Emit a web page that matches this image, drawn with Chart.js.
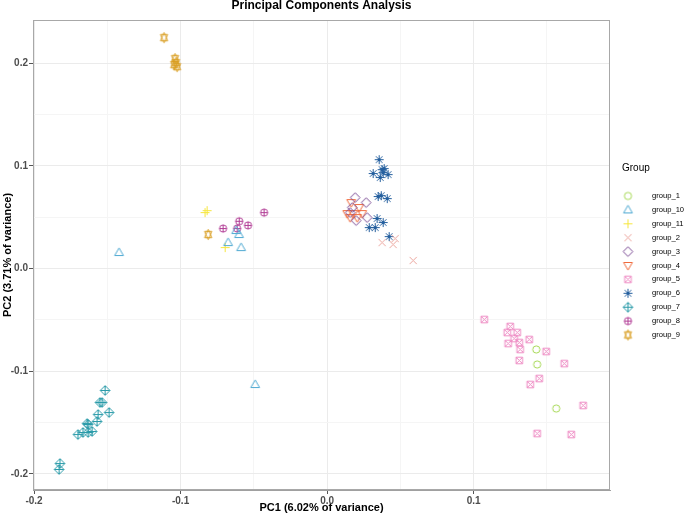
<!DOCTYPE html>
<html lang="en">
<head>
<meta charset="utf-8"/>
<title>Principal Components Analysis</title>
<style>
  body { margin: 0; padding: 0; background: #fff; }
  canvas { display: block; }
</style>
</head>
<body>
<canvas id="chart" width="685" height="515"></canvas>
<script src="https://cdn.jsdelivr.net/npm/chart.js"></script>
<script>
// groups as listed in the legend
const groups = ["group_1", "group_10", "group_11", "group_2", "group_3", "group_4",
                "group_5", "group_6", "group_7", "group_8", "group_9"];
const colors = ["#A6D854", "#4EA9D2", "#F6E63C", "#EBA49C", "#7A4A94", "#F06A3C",
                "#EE8CC4", "#245F9E", "#2A9BA9", "#B23E96", "#D99E22"];
const shapes = ["circle", "triUp", "plus", "cross", "diamond", "triDown",
                "squareX", "asterisk", "diamondPlus", "circlePlus", "starDavid"];

// PC1 / PC2 scores
const pc1_g1  = [0.1427, 0.1433, 0.1563];
const pc2_g1  = [-0.0788, -0.0934, -0.1363];
const pc1_g10 = [-0.142, -0.0621, -0.0601, -0.0676, -0.0587, -0.0491];
const pc2_g10 = [0.0156, 0.037, 0.0331, 0.0253, 0.0204, -0.1129];
const pc1_g11 = [-0.0833, -0.0819, -0.0696];
const pc2_g11 = [0.0545, 0.0564, 0.0204];
const pc1_g2  = [0.0375, 0.0464, 0.045, 0.0587];
const pc2_g2  = [0.0253, 0.0292, 0.0234, 0.0078];
const pc1_g3  = [0.0191, 0.0266, 0.0171, 0.0273, 0.0198, 0.0157];
const pc2_g3  = [0.0691, 0.0642, 0.0594, 0.0496, 0.0467, 0.0545];
const pc1_g4  = [0.0164, 0.0218, 0.0137, 0.0177, 0.0205, 0.0239, 0.0157];
const pc2_g4  = [0.0642, 0.0594, 0.0535, 0.0535, 0.0496, 0.0535, 0.0496];
const pc1_g5  = [0.1072, 0.1249, 0.1229, 0.1297, 0.1276, 0.1379, 0.1235, 0.1311, 0.1317,
                 0.1495, 0.1311, 0.1618, 0.1447, 0.1386, 0.1747, 0.1433, 0.1666];
const pc2_g5  = [-0.0496, -0.0564, -0.0623, -0.0623, -0.0681, -0.0691, -0.073, -0.072, -0.0788,
                 -0.0808, -0.0895, -0.0925, -0.1071, -0.1129, -0.1333, -0.1606, -0.1616];
const pc1_g6  = [0.0355, 0.0375, 0.0389, 0.0314, 0.0362, 0.0416, 0.0382, 0.0348,
                 0.0369, 0.041, 0.0341, 0.0382, 0.0287, 0.0328, 0.0423];
const pc2_g6  = [0.106, 0.0963, 0.0973, 0.0925, 0.0886, 0.0915, 0.0934, 0.0701,
                 0.071, 0.0681, 0.0487, 0.0448, 0.0399, 0.0399, 0.0311];
const pc1_g7  = [-0.1515, -0.155, -0.1536, -0.1488, -0.1563, -0.157, -0.1638,
                 -0.1631, -0.1666, -0.1604, -0.1631, -0.17, -0.1823, -0.1829];
const pc2_g7  = [-0.1187, -0.1304, -0.1304, -0.1402, -0.1421, -0.1489, -0.1509,
                 -0.1518, -0.1596, -0.1586, -0.1596, -0.1616, -0.1898, -0.1956];
const pc1_g8  = [-0.043, -0.06, -0.054, -0.071, -0.0614];
const pc2_g8  = [0.0545, 0.046, 0.042, 0.039, 0.039];
const pc1_g9  = [-0.1113, -0.1038, -0.1031, -0.1024, -0.1044, -0.0812];
const pc2_g9  = [0.2248, 0.2044, 0.2005, 0.1966, 0.1985, 0.0331];

const pc1 = [pc1_g1, pc1_g10, pc1_g11, pc1_g2, pc1_g3, pc1_g4, pc1_g5, pc1_g6, pc1_g7, pc1_g8, pc1_g9];
const pc2 = [pc2_g1, pc2_g10, pc2_g11, pc2_g2, pc2_g3, pc2_g4, pc2_g5, pc2_g6, pc2_g7, pc2_g8, pc2_g9];

const xTicks = [-0.2, -0.15, -0.1, -0.05, 0, 0.05, 0.1, 0.15];
const yTicks = [-0.2, -0.15, -0.1, -0.05, 0, 0.05, 0.1, 0.15, 0.2];

const FONT = '"Liberation Sans", Arial, sans-serif';

// ggplot-like open shapes drawn on little canvases
function marker(shape, color) {
  const s = 13, m = s / 2;
  const c = document.createElement("canvas");
  c.width = s; c.height = s;
  const g = c.getContext("2d");
  g.strokeStyle = color;
  g.lineWidth = 1;
  g.beginPath();
  const r = 3.6;
  if (shape === "circle") {
    g.arc(m, m, r, 0, Math.PI * 2);
  } else if (shape === "triUp") {
    g.moveTo(m, m - 4.6); g.lineTo(m + 4.4, m + 3); g.lineTo(m - 4.4, m + 3); g.closePath();
  } else if (shape === "triDown") {
    g.moveTo(m, m + 4.6); g.lineTo(m + 4.4, m - 3); g.lineTo(m - 4.4, m - 3); g.closePath();
  } else if (shape === "plus") {
    g.moveTo(m - 4.5, m); g.lineTo(m + 4.5, m); g.moveTo(m, m - 4.5); g.lineTo(m, m + 4.5);
  } else if (shape === "cross") {
    g.moveTo(m - r, m - r); g.lineTo(m + r, m + r); g.moveTo(m + r, m - r); g.lineTo(m - r, m + r);
  } else if (shape === "diamond") {
    g.moveTo(m, m - 4.8); g.lineTo(m + 4.8, m); g.lineTo(m, m + 4.8); g.lineTo(m - 4.8, m); g.closePath();
  } else if (shape === "squareX") {
    g.rect(m - 3.3, m - 3.3, 6.6, 6.6);
    g.moveTo(m - 3.3, m - 3.3); g.lineTo(m + 3.3, m + 3.3); g.moveTo(m + 3.3, m - 3.3); g.lineTo(m - 3.3, m + 3.3);
  } else if (shape === "asterisk") {
    g.moveTo(m - 4.5, m); g.lineTo(m + 4.5, m); g.moveTo(m, m - 4.5); g.lineTo(m, m + 4.5);
    g.moveTo(m - 3.3, m - 3.3); g.lineTo(m + 3.3, m + 3.3); g.moveTo(m + 3.3, m - 3.3); g.lineTo(m - 3.3, m + 3.3);
  } else if (shape === "diamondPlus") {
    g.moveTo(m, m - 4.8); g.lineTo(m + 4.8, m); g.lineTo(m, m + 4.8); g.lineTo(m - 4.8, m); g.closePath();
    g.moveTo(m - 4.8, m); g.lineTo(m + 4.8, m); g.moveTo(m, m - 4.8); g.lineTo(m, m + 4.8);
  } else if (shape === "circlePlus") {
    g.arc(m, m, r, 0, Math.PI * 2);
    g.moveTo(m - r, m); g.lineTo(m + r, m); g.moveTo(m, m - r); g.lineTo(m, m + r);
  } else if (shape === "starDavid") {
    // two squashed triangles, taller than wide like ggplot shape 11
    g.moveTo(m, m - 5.2); g.lineTo(m + 3.6, m + 3.2); g.lineTo(m - 3.6, m + 3.2); g.closePath();
    g.moveTo(m, m + 5.2); g.lineTo(m + 3.6, m - 3.2); g.lineTo(m - 3.6, m - 3.2); g.closePath();
  }
  g.stroke();
  return c;
}

const datasets = groups.map((name, i) => ({
  label: name,
  data: pc1[i].map((x, k) => ({ x: x, y: pc2[i][k] })),
  pointStyle: marker(shapes[i], colors[i]),
  pointRadius: 4,
  borderColor: colors[i],
  backgroundColor: colors[i]
}));

const isMajor = v => Math.abs(v * 10 - Math.round(v * 10)) < 1e-6;

function axisOpts(ticks, min, max) {
  return {
    type: "linear",
    min: min,
    max: max,
    afterBuildTicks: ax => { ax.ticks = ticks.map(v => ({ value: v })); },
    ticks: {
      autoSkip: false,
      maxRotation: 0,
      padding: 1,
      color: "#4D4D4D",
      font: { family: FONT, size: 10, weight: "bold" },
      callback: v => isMajor(v) ? (Math.abs(v) < 1e-9 ? "0.0" : v.toFixed(1)) : ""
    },
    grid: {
      color: c => isMajor(c.tick.value) ? "#EBEBEB" : "#F5F5F5",
      tickColor: c => isMajor(c.tick.value) ? "#555555" : "rgba(0,0,0,0)",
      tickLength: 4,
      lineWidth: 1
    },
    border: { display: true, color: "#A0A0A0", width: 1 }
  };
}

const xScale = axisOpts(xTicks, -0.2007, 0.193);
xScale.title = { display: true, text: "PC1 (6.02% of variance)", color: "#000",
                 font: { family: FONT, size: 11, weight: "bold" }, padding: 0 };
xScale.afterFit = s => { s.height = 25; };

const yScale = axisOpts(yTicks, -0.2156, 0.242);
yScale.title = { display: true, text: "PC2 (3.71% of variance)", color: "#000",
                 font: { family: FONT, size: 11, weight: "bold" }, padding: 1 };
yScale.afterFit = s => { s.width = 33; };

// panel border + ggplot style legend on the right
const panelAndLegend = {
  id: "panelAndLegend",
  afterDraw(chart) {
    const ctx = chart.ctx, a = chart.chartArea;
    ctx.save();
    ctx.strokeStyle = "#A8A8A8";
    ctx.lineWidth = 1;
    ctx.strokeRect(a.left + 0.5, a.top + 0.5, a.right - a.left - 1, a.bottom - a.top - 1);

    const lx = a.right + 12, top = 168;
    ctx.fillStyle = "#000";
    ctx.textBaseline = "middle";
    ctx.font = "10px " + FONT;
    ctx.fillText("Group", lx, top);
    ctx.font = "7.6px " + FONT;
    chart.data.datasets.forEach((ds, i) => {
      const y = top + 28 + i * 13.9;
      const img = ds.pointStyle;
      ctx.drawImage(img, lx + 6 - img.width / 2, y - img.height / 2);
      ctx.fillStyle = "#000";
      ctx.fillText(ds.label, lx + 30, y);
    });
    ctx.restore();
  }
};

new Chart(document.getElementById("chart"), {
  type: "scatter",
  data: { datasets },
  options: {
    responsive: false,
    animation: false,
    layout: { padding: { top: 0, right: 75, bottom: 0, left: 0 } },
    plugins: {
      legend: { display: false },
      tooltip: { enabled: false },
      title: {
        display: true,
        text: "Principal Components Analysis",
        color: "#000",
        fullSize: false,
        font: { family: FONT, size: 12, weight: "bold", lineHeight: 1.2 },
        padding: { top: -2, bottom: 7.6 }
      }
    },
    scales: { x: xScale, y: yScale }
  },
  plugins: [panelAndLegend]
});
</script>
</body>
</html>
